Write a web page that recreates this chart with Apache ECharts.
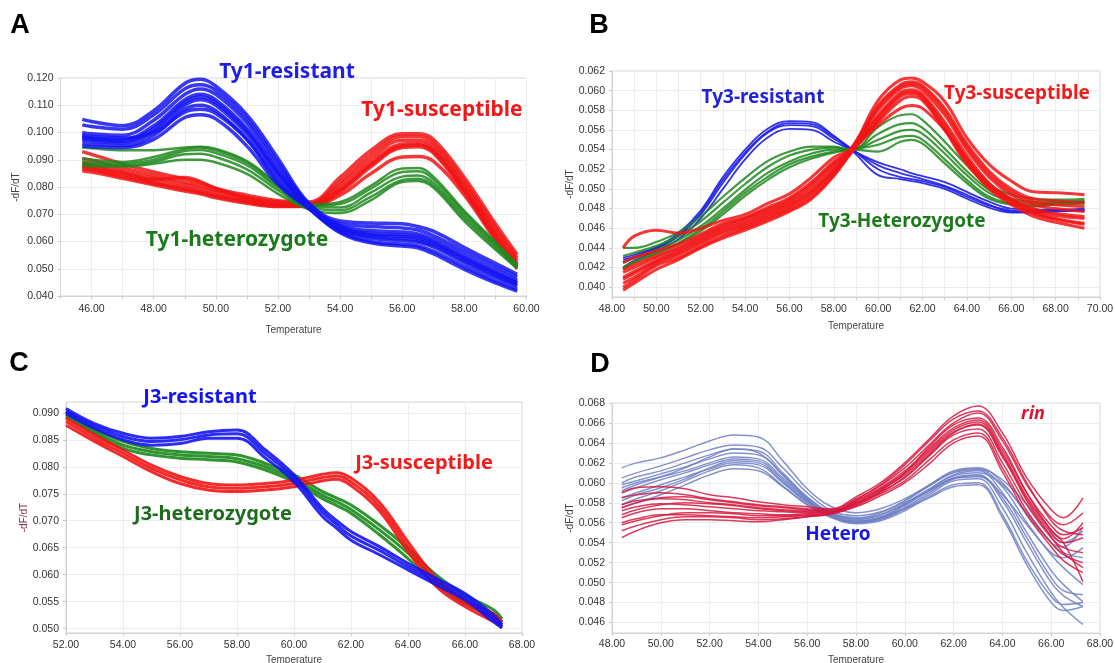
<!DOCTYPE html>
<html>
<head>
<meta charset="utf-8">
<script src="https://cdn.jsdelivr.net/npm/echarts@6/dist/echarts.min.js"></script>
<style>
  html, body { margin: 0; padding: 0; background: #fff; }
  #main { width: 1115px; height: 663px; }
</style>
</head>
<body>
<div id="main"></div>
<script>
// ---- panel A : Ty1 ----
const tempA = [45.7, 46, 47, 48, 49, 49.5, 50, 51, 52, 53, 54, 55, 56, 56.5, 57, 58, 59, 59.7];
const ty1Resistant = [
    [0.1048, 0.1040, 0.1025, 0.1080, 0.1180, 0.1195, 0.1170, 0.1065, 0.0905, 0.0740, 0.0675, 0.0668, 0.0665, 0.0655, 0.0638, 0.0578, 0.0520, 0.0480],
    [0.1028, 0.1022, 0.1012, 0.1065, 0.1160, 0.1175, 0.1155, 0.1050, 0.0890, 0.0735, 0.0665, 0.0655, 0.0650, 0.0642, 0.0622, 0.0565, 0.0508, 0.0470],
    [0.1000, 0.0995, 0.0990, 0.1045, 0.1140, 0.1160, 0.1140, 0.1035, 0.0875, 0.0732, 0.0658, 0.0640, 0.0635, 0.0628, 0.0610, 0.0552, 0.0495, 0.0458],
    [0.0985, 0.0980, 0.0975, 0.1025, 0.1120, 0.1140, 0.1120, 0.1015, 0.0860, 0.0728, 0.0650, 0.0625, 0.0618, 0.0612, 0.0595, 0.0537, 0.0482, 0.0447],
    [0.0972, 0.0968, 0.0962, 0.1005, 0.1100, 0.1120, 0.1100, 0.0995, 0.0845, 0.0725, 0.0642, 0.0612, 0.0603, 0.0597, 0.0580, 0.0522, 0.0468, 0.0436],
    [0.0960, 0.0957, 0.0952, 0.0990, 0.1085, 0.1100, 0.1080, 0.0975, 0.0830, 0.0722, 0.0636, 0.0600, 0.0590, 0.0584, 0.0565, 0.0508, 0.0455, 0.0425],
    [0.0950, 0.0948, 0.0945, 0.0975, 0.1055, 0.1065, 0.1050, 0.0950, 0.0810, 0.0720, 0.0632, 0.0595, 0.0583, 0.0577, 0.0555, 0.0498, 0.0448, 0.0418],
    [0.0990, 0.0985, 0.0980, 0.1000, 0.1075, 0.1085, 0.1070, 0.0975, 0.0820, 0.0722, 0.0655, 0.0630, 0.0625, 0.0620, 0.0600, 0.0540, 0.0486, 0.0450],
    [0.0978, 0.0974, 0.0968, 0.1015, 0.1110, 0.1130, 0.1110, 0.1005, 0.0852, 0.0726, 0.0646, 0.0618, 0.0610, 0.0604, 0.0587, 0.0530, 0.0475, 0.0441]
];
const ty1Susceptible = [
    [0.0930, 0.0920, 0.0885, 0.0855, 0.0830, 0.0815, 0.0795, 0.0770, 0.0750, 0.0745, 0.0835, 0.0935, 0.0995, 0.0995, 0.0975, 0.0835, 0.0665, 0.0552],
    [0.0905, 0.0898, 0.0870, 0.0843, 0.0818, 0.0805, 0.0788, 0.0762, 0.0745, 0.0740, 0.0820, 0.0920, 0.0985, 0.0985, 0.0962, 0.0820, 0.0650, 0.0540],
    [0.0890, 0.0883, 0.0858, 0.0832, 0.0808, 0.0795, 0.0780, 0.0755, 0.0738, 0.0736, 0.0808, 0.0905, 0.0972, 0.0972, 0.0950, 0.0808, 0.0638, 0.0530],
    [0.0875, 0.0868, 0.0845, 0.0820, 0.0797, 0.0785, 0.0770, 0.0748, 0.0733, 0.0732, 0.0795, 0.0890, 0.0958, 0.0960, 0.0938, 0.0795, 0.0625, 0.0520],
    [0.0860, 0.0855, 0.0832, 0.0808, 0.0785, 0.0775, 0.0760, 0.0740, 0.0728, 0.0729, 0.0782, 0.0875, 0.0945, 0.0948, 0.0925, 0.0782, 0.0612, 0.0508],
    [0.0880, 0.0874, 0.0852, 0.0828, 0.0835, 0.0820, 0.0795, 0.0760, 0.0735, 0.0730, 0.0770, 0.0850, 0.0910, 0.0912, 0.0895, 0.0770, 0.0605, 0.0500],
    [0.0868, 0.0862, 0.0838, 0.0814, 0.0791, 0.0780, 0.0765, 0.0744, 0.0730, 0.0730, 0.0788, 0.0882, 0.0951, 0.0954, 0.0931, 0.0788, 0.0618, 0.0514]
];
const ty1Hetero = [
    [0.0945, 0.0942, 0.0935, 0.0935, 0.0945, 0.0948, 0.0940, 0.0895, 0.0810, 0.0735, 0.0745, 0.0805, 0.0868, 0.0870, 0.0838, 0.0712, 0.0598, 0.0515],
    [0.0905, 0.0900, 0.0892, 0.0910, 0.0940, 0.0945, 0.0935, 0.0890, 0.0805, 0.0732, 0.0738, 0.0795, 0.0855, 0.0858, 0.0828, 0.0705, 0.0592, 0.0512],
    [0.0895, 0.0890, 0.0885, 0.0900, 0.0932, 0.0936, 0.0925, 0.0880, 0.0798, 0.0728, 0.0725, 0.0780, 0.0838, 0.0842, 0.0815, 0.0695, 0.0585, 0.0508],
    [0.0885, 0.0882, 0.0878, 0.0892, 0.0920, 0.0922, 0.0910, 0.0865, 0.0788, 0.0724, 0.0715, 0.0765, 0.0825, 0.0830, 0.0805, 0.0685, 0.0578, 0.0504],
    [0.0878, 0.0876, 0.0875, 0.0885, 0.0900, 0.0900, 0.0890, 0.0848, 0.0775, 0.0718, 0.0705, 0.0752, 0.0818, 0.0822, 0.0798, 0.0675, 0.0570, 0.0500]
];

// ---- panel B : Ty3 ----
const tempB = [48.5, 49, 50, 51, 52, 53, 54, 55, 56, 57, 58, 58.8, 60, 61, 61.5, 62, 63, 64, 65, 66, 67, 68, 69.3];
const ty3Resistant = [
    [0.0430, 0.0433, 0.0441, 0.0455, 0.0478, 0.0512, 0.0540, 0.0561, 0.0569, 0.0568, 0.0554, 0.0540, 0.0527, 0.0520, 0.0516, 0.0513, 0.0507, 0.0497, 0.0487, 0.0480, 0.0479, 0.0479, 0.0479],
    [0.0425, 0.0430, 0.0439, 0.0452, 0.0474, 0.0506, 0.0535, 0.0557, 0.0565, 0.0564, 0.0551, 0.0540, 0.0524, 0.0516, 0.0513, 0.0510, 0.0503, 0.0494, 0.0484, 0.0477, 0.0477, 0.0478, 0.0478],
    [0.0420, 0.0427, 0.0437, 0.0449, 0.0470, 0.0500, 0.0530, 0.0552, 0.0561, 0.0560, 0.0548, 0.0539, 0.0514, 0.0510, 0.0508, 0.0506, 0.0500, 0.0490, 0.0481, 0.0476, 0.0476, 0.0477, 0.0478],
    [0.0428, 0.0431, 0.0440, 0.0453, 0.0476, 0.0509, 0.0537, 0.0558, 0.0567, 0.0566, 0.0553, 0.0541, 0.0520, 0.0512, 0.0510, 0.0508, 0.0502, 0.0492, 0.0483, 0.0478, 0.0476, 0.0478, 0.0480]
];
const ty3Susceptible = [
    [0.0440, 0.0452, 0.0458, 0.0455, 0.0460, 0.0468, 0.0474, 0.0485, 0.0495, 0.0512, 0.0532, 0.0542, 0.0590, 0.0611, 0.0613, 0.0609, 0.0589, 0.0552, 0.0525, 0.0508, 0.0497, 0.0496, 0.0494],
    [0.0425, 0.0430, 0.0437, 0.0444, 0.0454, 0.0465, 0.0471, 0.0481, 0.0491, 0.0507, 0.0528, 0.0541, 0.0585, 0.0606, 0.0609, 0.0605, 0.0582, 0.0546, 0.0518, 0.0500, 0.0490, 0.0488, 0.0486],
    [0.0418, 0.0423, 0.0432, 0.0441, 0.0452, 0.0463, 0.0470, 0.0479, 0.0489, 0.0505, 0.0526, 0.0540, 0.0583, 0.0604, 0.0607, 0.0603, 0.0579, 0.0543, 0.0515, 0.0497, 0.0487, 0.0484, 0.0482],
    [0.0415, 0.0420, 0.0430, 0.0439, 0.0450, 0.0461, 0.0468, 0.0477, 0.0487, 0.0502, 0.0524, 0.0540, 0.0580, 0.0602, 0.0605, 0.0600, 0.0575, 0.0540, 0.0512, 0.0494, 0.0484, 0.0480, 0.0477],
    [0.0408, 0.0414, 0.0426, 0.0435, 0.0446, 0.0457, 0.0464, 0.0473, 0.0483, 0.0497, 0.0519, 0.0539, 0.0575, 0.0598, 0.0601, 0.0596, 0.0568, 0.0534, 0.0506, 0.0489, 0.0478, 0.0473, 0.0470],
    [0.0404, 0.0410, 0.0424, 0.0433, 0.0444, 0.0455, 0.0462, 0.0471, 0.0481, 0.0495, 0.0517, 0.0538, 0.0573, 0.0596, 0.0599, 0.0594, 0.0565, 0.0530, 0.0503, 0.0486, 0.0475, 0.0469, 0.0464],
    [0.0400, 0.0407, 0.0422, 0.0430, 0.0441, 0.0452, 0.0460, 0.0469, 0.0479, 0.0492, 0.0515, 0.0538, 0.0570, 0.0594, 0.0597, 0.0592, 0.0561, 0.0527, 0.0500, 0.0484, 0.0472, 0.0466, 0.0460],
    [0.0410, 0.0416, 0.0427, 0.0437, 0.0448, 0.0459, 0.0466, 0.0475, 0.0485, 0.0499, 0.0521, 0.0539, 0.0565, 0.0582, 0.0585, 0.0582, 0.0560, 0.0530, 0.0505, 0.0490, 0.0480, 0.0475, 0.0472],
    [0.0397, 0.0404, 0.0418, 0.0428, 0.0440, 0.0450, 0.0458, 0.0467, 0.0477, 0.0490, 0.0513, 0.0537, 0.0568, 0.0590, 0.0594, 0.0590, 0.0560, 0.0525, 0.0502, 0.0488, 0.0476, 0.0470, 0.0465]
];
const ty3Hetero = [
    [0.0440, 0.0440, 0.0446, 0.0456, 0.0472, 0.0492, 0.0511, 0.0528, 0.0538, 0.0543, 0.0543, 0.0540, 0.0563, 0.0575, 0.0576, 0.0570, 0.0548, 0.0524, 0.0504, 0.0494, 0.0490, 0.0489, 0.0490],
    [0.0432, 0.0435, 0.0442, 0.0452, 0.0467, 0.0486, 0.0505, 0.0522, 0.0534, 0.0540, 0.0542, 0.0540, 0.0556, 0.0566, 0.0567, 0.0562, 0.0541, 0.0518, 0.0499, 0.0490, 0.0487, 0.0487, 0.0488],
    [0.0425, 0.0430, 0.0438, 0.0448, 0.0462, 0.0480, 0.0499, 0.0516, 0.0528, 0.0536, 0.0540, 0.0540, 0.0550, 0.0559, 0.0560, 0.0556, 0.0536, 0.0514, 0.0496, 0.0488, 0.0485, 0.0486, 0.0487],
    [0.0418, 0.0425, 0.0434, 0.0444, 0.0457, 0.0474, 0.0493, 0.0509, 0.0522, 0.0531, 0.0537, 0.0540, 0.0545, 0.0553, 0.0554, 0.0550, 0.0530, 0.0509, 0.0492, 0.0485, 0.0483, 0.0485, 0.0486],
    [0.0420, 0.0426, 0.0435, 0.0445, 0.0459, 0.0477, 0.0496, 0.0512, 0.0525, 0.0533, 0.0538, 0.0540, 0.0538, 0.0548, 0.0550, 0.0546, 0.0526, 0.0506, 0.0490, 0.0484, 0.0482, 0.0484, 0.0485]
];

// ---- panel C : J3 ----
const tempC = [52, 53, 54, 55, 56, 57, 58, 59, 60, 61, 61.5, 62, 63, 64, 65, 66, 67, 67.3];
const j3Resistant = [
    [0.0908, 0.0880, 0.0862, 0.0853, 0.0856, 0.0865, 0.0868, 0.0831, 0.0785, 0.0723, 0.0700, 0.0680, 0.0652, 0.0621, 0.0593, 0.0565, 0.0525, 0.0507],
    [0.0903, 0.0876, 0.0856, 0.0847, 0.0850, 0.0859, 0.0861, 0.0824, 0.0779, 0.0716, 0.0693, 0.0672, 0.0645, 0.0615, 0.0587, 0.0559, 0.0519, 0.0504],
    [0.0899, 0.0871, 0.0850, 0.0840, 0.0843, 0.0853, 0.0853, 0.0816, 0.0772, 0.0708, 0.0686, 0.0664, 0.0637, 0.0609, 0.0581, 0.0553, 0.0513, 0.0501]
];
const j3Susceptible = [
    [0.0890, 0.0859, 0.0831, 0.0803, 0.0782, 0.0769, 0.0766, 0.0769, 0.0775, 0.0786, 0.0789, 0.0779, 0.0734, 0.0661, 0.0593, 0.0553, 0.0528, 0.0512],
    [0.0884, 0.0853, 0.0825, 0.0797, 0.0776, 0.0763, 0.0760, 0.0763, 0.0769, 0.0780, 0.0783, 0.0772, 0.0726, 0.0652, 0.0586, 0.0547, 0.0521, 0.0508],
    [0.0877, 0.0847, 0.0819, 0.0791, 0.0769, 0.0757, 0.0754, 0.0757, 0.0763, 0.0774, 0.0777, 0.0765, 0.0718, 0.0643, 0.0578, 0.0541, 0.0513, 0.0503]
];
const j3Hetero = [
    [0.0902, 0.0871, 0.0847, 0.0834, 0.0828, 0.0825, 0.0822, 0.0806, 0.0785, 0.0754, 0.0742, 0.0729, 0.0692, 0.0649, 0.0599, 0.0562, 0.0535, 0.0518],
    [0.0897, 0.0866, 0.0840, 0.0828, 0.0822, 0.0819, 0.0815, 0.0800, 0.0778, 0.0747, 0.0735, 0.0721, 0.0683, 0.0640, 0.0590, 0.0554, 0.0527, 0.0513],
    [0.0893, 0.0862, 0.0834, 0.0822, 0.0816, 0.0813, 0.0809, 0.0794, 0.0772, 0.0741, 0.0728, 0.0714, 0.0674, 0.0630, 0.0581, 0.0547, 0.0519, 0.0508]
];

// ---- panel D : rin ----
const tempD = [48.4, 49, 50, 51, 52, 53, 54, 55, 56, 57, 58, 59, 60, 61, 62, 63, 64, 65, 66, 66.5, 67.3];
const rinHetero = [
    [0.0615, 0.0620, 0.0625, 0.0633, 0.0642, 0.0648, 0.0646, 0.0622, 0.0594, 0.0576, 0.0570, 0.0574, 0.0584, 0.0598, 0.0612, 0.0615, 0.0600, 0.0568, 0.0540, 0.0530, 0.0525],
    [0.0605, 0.0610, 0.0617, 0.0625, 0.0633, 0.0638, 0.0636, 0.0615, 0.0590, 0.0572, 0.0567, 0.0571, 0.0582, 0.0597, 0.0610, 0.0613, 0.0596, 0.0560, 0.0528, 0.0515, 0.0498],
    [0.0598, 0.0602, 0.0609, 0.0616, 0.0624, 0.0630, 0.0628, 0.0608, 0.0585, 0.0569, 0.0563, 0.0568, 0.0580, 0.0594, 0.0608, 0.0612, 0.0590, 0.0550, 0.0512, 0.0498, 0.0481],
    [0.0590, 0.0595, 0.0603, 0.0610, 0.0618, 0.0624, 0.0622, 0.0603, 0.0582, 0.0567, 0.0561, 0.0565, 0.0577, 0.0592, 0.0605, 0.0608, 0.0582, 0.0540, 0.0500, 0.0487, 0.0476],
    [0.0585, 0.0590, 0.0598, 0.0606, 0.0614, 0.0620, 0.0618, 0.0600, 0.0580, 0.0566, 0.0560, 0.0563, 0.0574, 0.0588, 0.0602, 0.0604, 0.0575, 0.0530, 0.0490, 0.0475, 0.0458],
    [0.0578, 0.0584, 0.0592, 0.0602, 0.0612, 0.0618, 0.0615, 0.0597, 0.0578, 0.0565, 0.0559, 0.0562, 0.0572, 0.0586, 0.0598, 0.0600, 0.0568, 0.0522, 0.0486, 0.0478, 0.0480],
    [0.0595, 0.0600, 0.0606, 0.0612, 0.0620, 0.0626, 0.0624, 0.0605, 0.0583, 0.0568, 0.0562, 0.0566, 0.0578, 0.0593, 0.0607, 0.0610, 0.0598, 0.0570, 0.0540, 0.0536, 0.0556],
    [0.0582, 0.0588, 0.0595, 0.0604, 0.0615, 0.0622, 0.0620, 0.0601, 0.0581, 0.0567, 0.0561, 0.0564, 0.0575, 0.0590, 0.0604, 0.0607, 0.0588, 0.0558, 0.0530, 0.0525, 0.0535],
    [0.0592, 0.0598, 0.0606, 0.0615, 0.0626, 0.0634, 0.0632, 0.0610, 0.0586, 0.0570, 0.0565, 0.0570, 0.0582, 0.0597, 0.0611, 0.0614, 0.0603, 0.0578, 0.0548, 0.0540, 0.0552],
    [0.0575, 0.0580, 0.0588, 0.0598, 0.0608, 0.0614, 0.0612, 0.0596, 0.0578, 0.0566, 0.0561, 0.0565, 0.0574, 0.0585, 0.0596, 0.0598, 0.0565, 0.0518, 0.0480, 0.0472, 0.0476],
    [0.0600, 0.0606, 0.0612, 0.0620, 0.0628, 0.0634, 0.0630, 0.0608, 0.0584, 0.0569, 0.0564, 0.0568, 0.0579, 0.0592, 0.0604, 0.0606, 0.0585, 0.0545, 0.0505, 0.0492, 0.0488]
];
const rinHomo = [
    [0.0590, 0.0595, 0.0596, 0.0594, 0.0588, 0.0585, 0.0581, 0.0578, 0.0576, 0.0574, 0.0586, 0.0600, 0.0620, 0.0644, 0.0667, 0.0677, 0.0650, 0.0605, 0.0573, 0.0565, 0.0585],
    [0.0585, 0.0588, 0.0590, 0.0588, 0.0584, 0.0581, 0.0578, 0.0576, 0.0574, 0.0573, 0.0584, 0.0597, 0.0615, 0.0638, 0.0660, 0.0670, 0.0642, 0.0598, 0.0565, 0.0558, 0.0570],
    [0.0578, 0.0582, 0.0584, 0.0583, 0.0580, 0.0578, 0.0575, 0.0573, 0.0572, 0.0572, 0.0582, 0.0595, 0.0612, 0.0634, 0.0655, 0.0663, 0.0633, 0.0590, 0.0557, 0.0548, 0.0555],
    [0.0572, 0.0576, 0.0579, 0.0578, 0.0576, 0.0574, 0.0572, 0.0571, 0.0570, 0.0571, 0.0580, 0.0593, 0.0608, 0.0630, 0.0651, 0.0658, 0.0626, 0.0584, 0.0550, 0.0540, 0.0545],
    [0.0565, 0.0570, 0.0574, 0.0574, 0.0572, 0.0570, 0.0569, 0.0568, 0.0569, 0.0570, 0.0579, 0.0591, 0.0605, 0.0627, 0.0648, 0.0654, 0.0620, 0.0578, 0.0545, 0.0535, 0.0530],
    [0.0560, 0.0564, 0.0568, 0.0568, 0.0567, 0.0566, 0.0565, 0.0566, 0.0567, 0.0569, 0.0577, 0.0589, 0.0602, 0.0623, 0.0643, 0.0650, 0.0615, 0.0572, 0.0540, 0.0528, 0.0520],
    [0.0545, 0.0552, 0.0560, 0.0563, 0.0563, 0.0562, 0.0561, 0.0563, 0.0566, 0.0569, 0.0576, 0.0587, 0.0600, 0.0619, 0.0640, 0.0647, 0.0611, 0.0568, 0.0536, 0.0522, 0.0510],
    [0.0552, 0.0557, 0.0563, 0.0566, 0.0566, 0.0565, 0.0563, 0.0564, 0.0566, 0.0569, 0.0578, 0.0592, 0.0610, 0.0636, 0.0658, 0.0665, 0.0636, 0.0590, 0.0552, 0.0540, 0.0501],
    [0.0575, 0.0580, 0.0585, 0.0586, 0.0583, 0.0580, 0.0577, 0.0575, 0.0573, 0.0572, 0.0583, 0.0598, 0.0618, 0.0642, 0.0664, 0.0672, 0.0645, 0.0600, 0.0562, 0.0552, 0.0548],
    [0.0558, 0.0562, 0.0567, 0.0570, 0.0570, 0.0569, 0.0567, 0.0567, 0.0568, 0.0570, 0.0579, 0.0590, 0.0606, 0.0628, 0.0650, 0.0659, 0.0628, 0.0582, 0.0546, 0.0530, 0.0515],
    [0.0568, 0.0573, 0.0578, 0.0580, 0.0579, 0.0577, 0.0574, 0.0572, 0.0571, 0.0571, 0.0581, 0.0594, 0.0610, 0.0632, 0.0653, 0.0661, 0.0630, 0.0586, 0.0553, 0.0544, 0.0560]
];

// tick labels on the y axes of B, C, D
const yTicksB = [0.040, 0.042, 0.044, 0.046, 0.048, 0.050, 0.052, 0.054, 0.056, 0.058, 0.060, 0.062];
const yTicksC = [0.050, 0.055, 0.060, 0.065, 0.070, 0.075, 0.080, 0.085, 0.090];
const yTicksD = [0.046, 0.048, 0.050, 0.052, 0.054, 0.056, 0.058, 0.060, 0.062, 0.064, 0.066, 0.068];

let myChart = echarts.init(document.getElementById('main'));

const labelFont = '"Liberation Sans", Arial, sans-serif';

function lines(idx, temps, curves, color, width, opacity) {
    return curves.map(function (c) {
        return {
            type: 'line',
            xAxisIndex: idx,
            yAxisIndex: idx,
            data: temps.map(function (t, i) { return [t, c[i]]; }),
            smooth: 0.4,
            showSymbol: false,
            silent: true,
            lineStyle: {color: color, width: width, opacity: opacity}
        };
    });
}

function xAxisCfg(idx, min, max, interval, onlyEven, gap, margin) {
    return {
        gridIndex: idx,
        type: 'value',
        min: min,
        max: max,
        interval: interval,
        name: 'Temperature',
        nameLocation: 'middle',
        nameGap: gap,
        nameTextStyle: {fontSize: 10, color: '#444', fontFamily: labelFont},
        axisLine: {show: true, lineStyle: {color: '#d4d4d4'}},
        axisTick: {show: true, length: 3, lineStyle: {color: '#c8c8c8'}},
        axisLabel: {
            fontSize: 10.5, color: '#333', fontFamily: labelFont, margin: margin,
            formatter: function (v) {
                if (onlyEven && Math.round(v) % 2 !== 0) return '';
                return v.toFixed(2);
            }
        },
        splitLine: {show: true, lineStyle: {color: '#ededed'}}
    };
}

function yAxisCfg(idx, min, max, interval, ticks, digits, gap, nameColor) {
    let cfg = {
        gridIndex: idx,
        type: 'value',
        min: min,
        max: max,
        name: '-dF/dT',
        nameLocation: 'middle',
        nameRotate: 90,
        nameGap: gap,
        nameTextStyle: {fontSize: 10, color: nameColor, fontFamily: labelFont},
        axisLine: {show: true, lineStyle: {color: '#d4d4d4'}},
        axisTick: {show: true, length: 3, lineStyle: {color: '#c8c8c8'}},
        axisLabel: {
            fontSize: 10.5, color: '#333', fontFamily: labelFont, margin: 7,
            formatter: function (v) { return v.toFixed(digits); }
        },
        splitLine: {show: true, lineStyle: {color: '#ededed'}}
    };
    if (ticks) {
        cfg.axisLabel.customValues = ticks;
        cfg.axisTick.customValues = ticks;
    } else {
        cfg.interval = interval;
    }
    return cfg;
}

let series = [].concat(
    lines(0, tempA, ty1Susceptible, '#f21414', 3.5, 0.85),
    lines(0, tempA, ty1Hetero, '#1f8a1f', 2.5, 0.85),
    lines(0, tempA, ty1Resistant, '#1414f2', 3.5, 0.85),
    lines(1, tempB, ty3Resistant, '#1e1ee6', 1.8, 0.9),
    lines(1, tempB, ty3Hetero, '#1f8a1f', 2.2, 0.85),
    lines(1, tempB, ty3Susceptible, '#f21414', 3, 0.85),
    lines(2, tempC, j3Hetero, '#1a8a1a', 3, 0.9),
    lines(2, tempC, j3Susceptible, '#f21414', 3, 0.9),
    lines(2, tempC, j3Resistant, '#1414f2', 3, 0.9),
    lines(3, tempD, rinHetero, '#6f7fc4', 1.5, 0.85),
    lines(3, tempD, rinHomo, '#d6173d', 1.5, 0.85)
);

function txt(x, y, text, font, fill) {
    return {
        type: 'text', x: x, y: y, z: 100, silent: true,
        style: {text: text, font: font, fill: fill, textAlign: 'center', textVerticalAlign: 'middle'}
    };
}

const tagFont = 'bold 21px "Noto Sans", "Open Sans", sans-serif';
const letterFont = 'bold 27px "Liberation Sans", Arial, sans-serif';

let option = {
    animation: false,
    backgroundColor: '#ffffff',
    grid: [
        {left: 60.5, top: 78, width: 466, height: 218, show: true, borderColor: '#d4d4d4', borderWidth: 1, backgroundColor: '#fff', outerBoundsMode: 'none'},
        {left: 612, top: 71, width: 488, height: 226, show: true, borderColor: '#d4d4d4', borderWidth: 1, backgroundColor: '#fff', outerBoundsMode: 'none'},
        {left: 66, top: 402, width: 456, height: 231, show: true, borderColor: '#d4d4d4', borderWidth: 1, backgroundColor: '#fff', outerBoundsMode: 'none'},
        {left: 612, top: 403, width: 488, height: 230, show: true, borderColor: '#d4d4d4', borderWidth: 1, backgroundColor: '#fff', outerBoundsMode: 'none'}
    ],
    xAxis: [
        xAxisCfg(0, 45, 60, 1, true, 29, 8),
        xAxisCfg(1, 48, 70, 1, true, 24, 6.5),
        xAxisCfg(2, 52, 68, 2, false, 22, 7),
        xAxisCfg(3, 48, 68, 2, false, 22, 6)
    ],
    yAxis: [
        yAxisCfg(0, 0.04, 0.12, 0.01, null, 3, 39, '#444'),
        yAxisCfg(1, 0.039, 0.062, null, yTicksB, 3, 33, '#444'),
        yAxisCfg(2, 0.0492, 0.092, null, yTicksC, 3, 36, '#7a3048'),
        yAxisCfg(3, 0.04495, 0.068, null, yTicksD, 3, 33, '#444')
    ],
    graphic: [
        txt(20, 26, 'A', letterFont, '#000'),
        txt(599, 26, 'B', letterFont, '#000'),
        txt(19, 364, 'C', letterFont, '#000'),
        txt(600, 365, 'D', letterFont, '#000'),
        txt(287, 72, 'Ty1-resistant', tagFont, '#1e1ee6'),
        txt(442, 110, 'Ty1-susceptible', tagFont, '#f01818'),
        txt(237, 240, 'Ty1-heterozygote', tagFont, '#1c7a1c'),
        txt(763, 98, 'Ty3-resistant', 'bold 19px "Noto Sans", sans-serif', '#2323d8'),
        txt(1017, 94, 'Ty3-susceptible', 'bold 19px "Noto Sans", sans-serif', '#ee1c1c'),
        txt(902, 222, 'Ty3-Heterozygote', 'bold 19px "Noto Sans", sans-serif', '#1c7a1c'),
        txt(200, 397, 'J3-resistant', 'bold 20px "Noto Sans", sans-serif', '#1414f0'),
        txt(424, 463, 'J3-susceptible', 'bold 20px "Noto Sans", sans-serif', '#f01c1c'),
        txt(213, 514, 'J3-heterozygote', 'bold 20px "Noto Sans", sans-serif', '#1f6b1f'),
        txt(1033, 414, 'rin', 'italic bold 18px "Noto Sans", sans-serif', '#e0102a'),
        txt(838, 535, 'Hetero', 'bold 19px "Noto Sans", sans-serif', '#1a1ae0')
    ],
    series: series
};

myChart.setOption(option);
</script>
</body>
</html>
